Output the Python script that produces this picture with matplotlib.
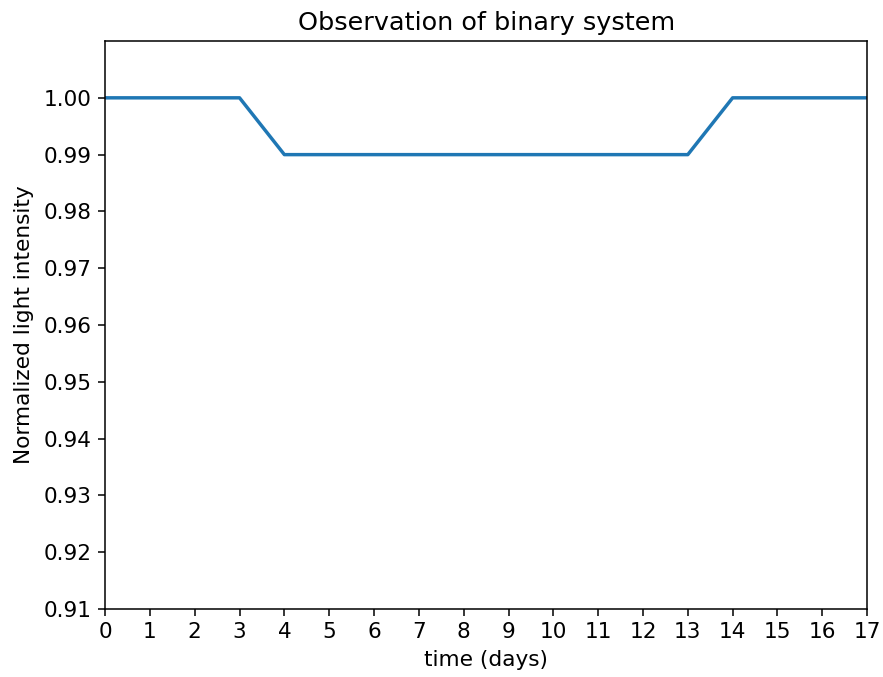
import numpy as np
from matplotlib import pyplot as plt

# light curve of the binary
days = [0, 1, 2, 3, 4, 5, 6, 7, 8, 9, 10, 11, 12, 13, 14, 15, 16, 17]
intensity = [1.00, 1.00, 1.00, 1.00, 0.99, 0.99, 0.99, 0.99, 0.99,
             0.99, 0.99, 0.99, 0.99, 0.99, 1.00, 1.00, 1.00, 1.00]
yticks = [0.91, 0.92, 0.93, 0.94, 0.95, 0.96, 0.97, 0.98, 0.99, 1.00]

plt.rcParams["font.size"] = 11.3

fig = plt.figure(figsize=(883/138, 677/138), dpi=138)
ax = fig.add_axes([0.119, 0.1004, 0.863, 0.839])

ax.plot(days, intensity, color="#1f77b4", linewidth=1.8)
ax.set_xlim(0, 17)
ax.set_ylim(0.91, 1.01)
ax.set_xticks(days)
ax.set_yticks(yticks)
ax.set_yticklabels(["%.2f" % v for v in yticks])
ax.set_xlabel("time (days)")
ax.set_ylabel("Normalized light intensity", labelpad=5)
ax.set_title("Observation of binary system", fontsize=13.3)

fig.savefig("out.png", dpi=138)
